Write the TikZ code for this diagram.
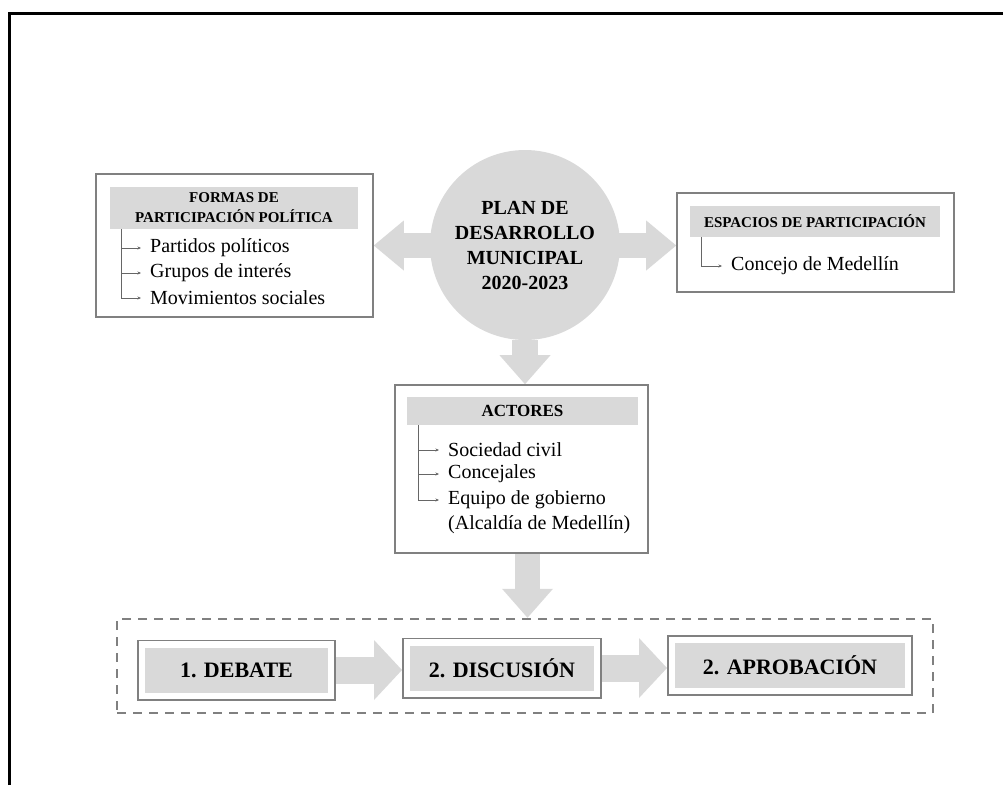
\documentclass[tikz,border=0pt]{standalone}
\usepackage{fontspec}
\setmainfont{Liberation Serif}
\usetikzlibrary{arrows.meta,backgrounds,fit,positioning}
\colorlet{relleno}{black!15}
\colorlet{borde}{black!50}
\begin{document}
\begin{tikzpicture}[x=1pt,y=-1pt,
    caja/.style={draw=borde,line width=1.6pt,fill=white},
    cabeza/.style={fill=relleno,inner sep=0pt,align=center,
      font=\fontsize{15}{20}\selectfont\bfseries},
    item/.style={anchor=west,inner sep=0pt,font=\fontsize{20}{24}\selectfont},
    rama/.style={draw=black!60,line width=0.8pt,-{Stealth[length=3.5pt,width=3pt]}},
    etapa/.style={fill=relleno,inner sep=0pt,minimum height=45pt,
      font=\fontsize{22}{26}\selectfont\bfseries},
    marco/.style={draw=borde,line width=1.6pt,inner sep=7pt},
    flecha/.style={draw=relleno,line width=26pt,
      -{Triangle[length=29pt,width=51pt,line width=0pt]}}]
  \useasboundingbox (0,0) rectangle (1003,785);
  \draw[line width=3pt] (9,785) |- (1003,13);

  \node[circle,fill=relleno,minimum size=190pt,align=center,
    font=\fontsize{20}{25}\selectfont\bfseries] (plan) at (525,245)
    {PLAN DE\\DESARROLLO\\MUNICIPAL\\2020-2023};

  \node[caja,minimum width=277pt,minimum height=143pt] (formas) at (234.5,245.5) {};
  \node[cabeza,minimum width=248pt,minimum height=42pt] (formasT) at (234,208)
    {FORMAS DE\\PARTICIPACIÓN POLÍTICA};
  \node[item] (partidos) at (150,248) {Partidos políticos};
  \node[item] (grupos)   at (150,273) {Grupos de interés};
  \node[item] (movim)    at (150,298) {Movimientos sociales};
  \foreach \i in {partidos,grupos,movim}
    \draw[rama] ([xshift=12pt]formasT.south west) |- ([xshift=-9pt]\i.west);

  \node[caja,minimum width=277pt,minimum height=99pt] (espacios) at (815.5,242.5) {};
  \node[cabeza,minimum width=250pt,minimum height=31pt] (espaciosT) at (815,221.5)
    {ESPACIOS DE PARTICIPACIÓN};
  \node[item] (concejo) at (731,266) {Concejo de Medellín};
  \draw[rama] ([xshift=12pt]espaciosT.south west) |- ([xshift=-9pt]concejo.west);

  \node[caja,minimum width=253pt,minimum height=168pt] (actores) at (521.5,469) {};
  \node[cabeza,minimum width=231pt,minimum height=28pt,
    font=\fontsize{17}{20}\selectfont\bfseries] (actoresT) at (522.5,411) {ACTORES};
  \node[item] (sociedad)   at (448,450) {Sociedad civil};
  \node[item] (concejales) at (448,474) {Concejales};
  \node[item] (equipo)     at (448,500) {Equipo de gobierno};
  \node[item] (alcaldia)   at (448,525) {(Alcaldía de Medellín)};
  \foreach \i in {sociedad,concejales,equipo}
    \draw[rama] ([xshift=12pt]actoresT.south west) |- ([xshift=-9pt]\i.west);

  \node[draw=borde,line width=2.5pt,dash pattern=on 9pt off 7pt,
    minimum width=816pt,minimum height=94pt] (etapas) at (525,666) {};
  \node[etapa,minimum width=183pt] (debate) at (236.5,670) {1. DEBATE};
  \node[marco,fit=(debate)] (debateM) {};
  \node[etapa,minimum width=184pt] (discusion) at (502,668) {2. DISCUSIÓN};
  \node[marco,fit=(discusion)] (discusionM) {};
  \node[etapa,minimum width=230pt] (aprob) at (790,665.5) {2. APROBACIÓN};
  \node[marco,fit=(aprob)] (aprobM) {};

  \begin{scope}[on background layer]
    \draw[flecha,line width=25pt,
      {Triangle[length=30pt,width=50pt,line width=0pt]}-{Triangle[length=30pt,width=50pt,line width=0pt]}]
      (formas.east) -- (formas.east -| espacios.west);
    \draw[flecha] (plan) -- (plan |- actores.north);
    \coordinate (baja) at ([xshift=6pt]actores.south);
    \draw[flecha,line width=25pt] (baja) -- (baja |- etapas.north);
    \draw[flecha,line width=27pt,-{Triangle[length=28pt,width=60pt,line width=0pt]}]
      (debateM.east) -- (debateM.east -| discusionM.west);
    \draw[flecha,line width=27pt,-{Triangle[length=28pt,width=60pt,line width=0pt]}]
      (discusionM.east) -- (discusionM.east -| aprobM.west);
  \end{scope}
\end{tikzpicture}
\end{document}
